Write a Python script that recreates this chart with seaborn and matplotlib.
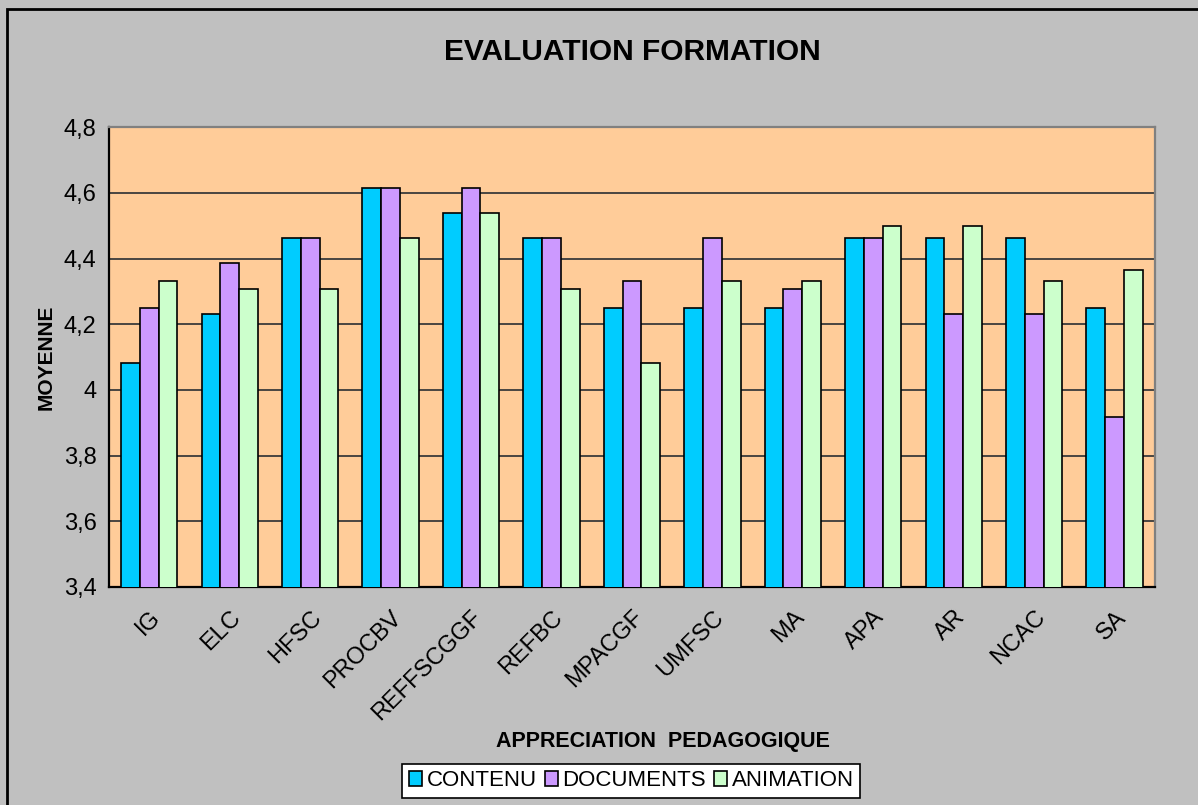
import pandas as pd
import matplotlib.pyplot as plt
import matplotlib.ticker as mticker
from matplotlib.patches import Rectangle
import seaborn as sns

# Data
criteres = ['IG', 'ELC', 'HFSC', 'PROCBV', 'REFFSCGGF', 'REFBC', 'MPACGF',
            'UMFSC', 'MA', 'APA', 'AR', 'NCAC', 'SA']
contenu = [4.083, 4.231, 4.462, 4.615, 4.538, 4.462, 4.25, 4.25, 4.25, 4.462, 4.462, 4.462, 4.25]
documents = [4.25, 4.385, 4.462, 4.615, 4.615, 4.462, 4.333, 4.462, 4.308, 4.462, 4.231, 4.231, 3.917]
animation = [4.333, 4.308, 4.308, 4.462, 4.538, 4.308, 4.083, 4.333, 4.333, 4.5, 4.5, 4.333, 4.364]
series = ['CONTENU', 'DOCUMENTS', 'ANIMATION']
couleurs = ['#00CCFF', '#CC99FF', '#CCFFCC']

# long format for seaborn
df = pd.DataFrame({
    'critere': criteres * 3,
    'moyenne': contenu + documents + animation,
    'serie': [s for s in series for _ in criteres],
})

sns.set_style("white")
plt.rcParams['font.family'] = ['Liberation Sans', 'DejaVu Sans']
plt.rcParams['text.color'] = 'black'
plt.rcParams['axes.labelcolor'] = 'black'
plt.rcParams['xtick.color'] = 'black'
plt.rcParams['ytick.color'] = 'black'

fig = plt.figure(figsize=(11.98, 8.05), dpi=100, facecolor='#C0C0C0')
ax = fig.add_axes([0.091, 0.271, 0.873, 0.571])
ax.set_facecolor('#FFCC99')

sns.barplot(data=df, x='critere', y='moyenne', hue='serie', palette=couleurs,
            saturation=1, edgecolor='black', linewidth=1.2, width=0.7, ax=ax, zorder=3)

ax.set_ylim(3.4, 4.8)
ax.set_xlim(-0.5, len(criteres) - 0.5)
ax.yaxis.set_major_locator(mticker.MultipleLocator(0.2))
ax.yaxis.set_major_formatter(mticker.FuncFormatter(
    lambda v, p: f"{round(v, 1):g}".replace('.', ',')))
ax.grid(axis='y', color='#3a3a3a', linewidth=1.3, zorder=0)
ax.set_axisbelow(True)

# ticks at category boundaries, labels at centres
ax.set_xticks([i - 0.5 for i in range(len(criteres) + 1)], minor=True)
ax.tick_params(axis='x', which='major', length=0, pad=14, labelsize=17)
ax.tick_params(axis='x', which='minor', length=6, width=1.2, color='black', direction='out')
ax.tick_params(axis='y', length=6, width=1.2, color='black', direction='out', labelsize=17, pad=3)
for lab in ax.get_xticklabels():
    lab.set_rotation(45)
    lab.set_ha('right')
    lab.set_rotation_mode('anchor')

for side in ['left', 'bottom']:
    ax.spines[side].set_color('black')
    ax.spines[side].set_linewidth(1.6)
for side in ['top', 'right']:
    ax.spines[side].set_color('#808080')
    ax.spines[side].set_linewidth(1.6)

ax.set_xlabel('')
ax.set_ylabel('MOYENNE', fontsize=15, fontweight='bold', labelpad=6)
fig.text(0.553, 0.079, 'APPRECIATION  PEDAGOGIQUE', fontsize=15.5, fontweight='bold',
         ha='center', va='center')
fig.text(0.528, 0.936, 'EVALUATION FORMATION', fontsize=21.5, fontweight='bold',
         ha='center', va='center')

ax.legend_.remove()
handles = [Rectangle((0, 0), 1, 1, facecolor=c, edgecolor='black', linewidth=1.2) for c in couleurs]
leg = fig.legend(handles, series, loc='center', bbox_to_anchor=(0.527, 0.030), ncol=3,
                 fontsize=16, frameon=True, fancybox=False, framealpha=1,
                 edgecolor='black', handlelength=0.6, handleheight=0.6,
                 handletextpad=0.2, columnspacing=0.35, borderpad=0.3,
                 borderaxespad=0)
leg.get_frame().set_linewidth(1.2)

# figure border (left and top visible)
fig.patches.append(Rectangle((0.006, -0.1), 1.2, 1.089, fill=False, edgecolor='black',
                             linewidth=2, transform=fig.transFigure, figure=fig))

fig.savefig('out.png', dpi=100, facecolor=fig.get_facecolor())
